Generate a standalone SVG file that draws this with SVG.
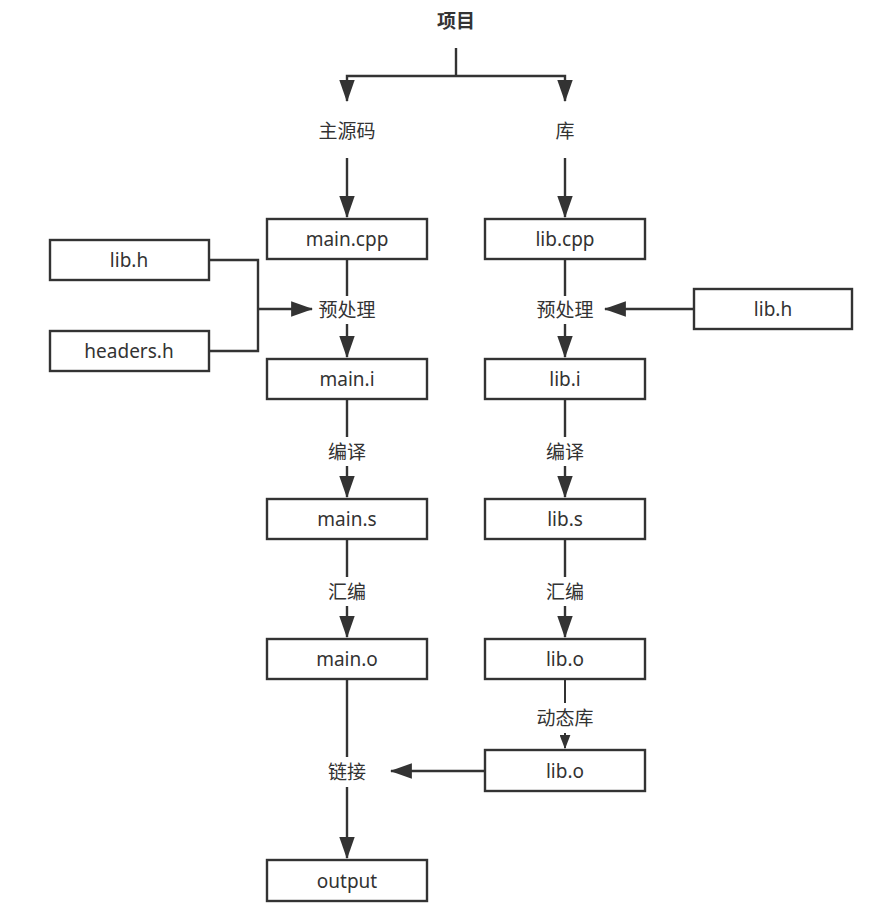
<svg xmlns="http://www.w3.org/2000/svg" width="895" height="915" viewBox="0 0 895 915">
<defs>
<style>
.box{fill:#ffffff;stroke:#333333;stroke-width:2.4}
.t{font-family:"Noto Sans","Noto Sans CJK SC",sans-serif;font-size:19px;fill:#333333;text-anchor:middle;dominant-baseline:central}
.b{font-weight:bold}
.c{fill:none;stroke:#333333;stroke-width:2.4}
.c2{fill:none;stroke:#333333;stroke-width:2}
</style>
<marker id="ah" markerUnits="userSpaceOnUse" markerWidth="22" markerHeight="16" viewBox="0 0 20 14" refX="19" refY="7" orient="auto">
<path d="M0,0 L20,7 L0,14 z" fill="#333333"/>
</marker>
<marker id="ahs" markerUnits="userSpaceOnUse" markerWidth="14" markerHeight="11" viewBox="0 0 13 10" refX="12" refY="5" orient="auto">
<path d="M0,0 L13,5 L0,10 z" fill="#333333"/>
</marker>
</defs>
<rect width="895" height="915" fill="#ffffff"/>

<g id="connectors">
<path class="c" d="M456,48 V76"/>
<path class="c" d="M456,76 H347 V101" marker-end="url(#ah)"/>
<path class="c" d="M456,76 H565 V101" marker-end="url(#ah)"/>
<path class="c" d="M347,158 V217" marker-end="url(#ah)"/>
<path class="c" d="M565,158 V217" marker-end="url(#ah)"/>

<path class="c" d="M347,260 V296"/>
<path class="c" d="M347,324 V357" marker-end="url(#ah)"/>
<path class="c" d="M209,260 H258 V351 H209"/>
<path class="c" d="M258,309 H312" marker-end="url(#ah)"/>
<path class="c" d="M347,400 V437"/>
<path class="c" d="M347,466 V497" marker-end="url(#ah)"/>
<path class="c" d="M347,540 V577"/>
<path class="c" d="M347,606 V637" marker-end="url(#ah)"/>
<path class="c" d="M347,680 V757"/>
<path class="c" d="M347,787 V858" marker-end="url(#ah)"/>

<path class="c" d="M565,260 V296"/>
<path class="c" d="M565,324 V357" marker-end="url(#ah)"/>
<path class="c" d="M694,309 H605" marker-end="url(#ah)"/>
<path class="c" d="M565,400 V437"/>
<path class="c" d="M565,466 V497" marker-end="url(#ah)"/>
<path class="c" d="M565,540 V577"/>
<path class="c" d="M565,606 V637" marker-end="url(#ah)"/>
<path class="c2" d="M565,680 V703"/>
<path class="c2" d="M565,733 V748" marker-end="url(#ahs)"/>
<path class="c" d="M485,771 H391" marker-end="url(#ah)"/>
</g>

<g id="n-project"><text class="t b" x="456" y="21">项目</text></g>
<g id="n-mainsrc"><text class="t" x="347" y="131">主源码</text></g>
<g id="n-lib"><text class="t" x="565" y="131">库</text></g>

<g id="n-maincpp"><rect class="box" x="267" y="219" width="160" height="40"/><text class="t" x="347" y="239">main.cpp</text></g>
<g id="n-libh-left"><rect class="box" x="50" y="240" width="159" height="40"/><text class="t" x="129" y="260">lib.h</text></g>
<g id="n-headers"><rect class="box" x="50" y="331" width="159" height="40"/><text class="t" x="129" y="351">headers.h</text></g>
<g id="n-pre-left"><text class="t" x="347" y="310">预处理</text></g>
<g id="n-maini"><rect class="box" x="267" y="359" width="160" height="40"/><text class="t" x="347" y="379">main.i</text></g>
<g id="n-comp-left"><text class="t" x="347" y="452">编译</text></g>
<g id="n-mains"><rect class="box" x="267" y="499" width="160" height="40"/><text class="t" x="347" y="519">main.s</text></g>
<g id="n-asm-left"><text class="t" x="347" y="592">汇编</text></g>
<g id="n-maino"><rect class="box" x="267" y="639" width="160" height="40"/><text class="t" x="347" y="659">main.o</text></g>
<g id="n-link"><text class="t" x="347" y="772">链接</text></g>
<g id="n-output"><rect class="box" x="267" y="860" width="160" height="41"/><text class="t" x="347" y="881">output</text></g>

<g id="n-libcpp"><rect class="box" x="485" y="219" width="160" height="40"/><text class="t" x="565" y="239">lib.cpp</text></g>
<g id="n-pre-right"><text class="t" x="565" y="310">预处理</text></g>
<g id="n-libh-right"><rect class="box" x="694" y="289" width="158" height="40"/><text class="t" x="773" y="309">lib.h</text></g>
<g id="n-libi"><rect class="box" x="485" y="359" width="160" height="40"/><text class="t" x="565" y="379">lib.i</text></g>
<g id="n-comp-right"><text class="t" x="565" y="452">编译</text></g>
<g id="n-libs"><rect class="box" x="485" y="499" width="160" height="40"/><text class="t" x="565" y="519">lib.s</text></g>
<g id="n-asm-right"><text class="t" x="565" y="592">汇编</text></g>
<g id="n-libo"><rect class="box" x="485" y="639" width="160" height="40"/><text class="t" x="565" y="659">lib.o</text></g>
<g id="n-dyn"><text class="t" x="565" y="718">动态库</text></g>
<g id="n-libo2"><rect class="box" x="485" y="750" width="160" height="41"/><text class="t" x="565" y="771">lib.o</text></g>
</svg>
